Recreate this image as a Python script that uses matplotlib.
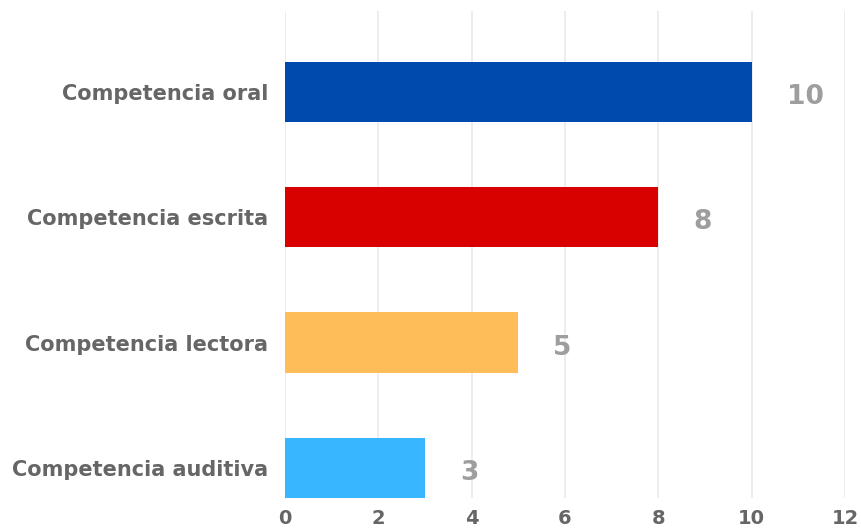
import matplotlib
matplotlib.use("Agg")
import matplotlib.pyplot as plt

# ──────────────────────────────────────────────
# Data
# ──────────────────────────────────────────────
categories = ["Competencia oral", "Competencia escrita",
              "Competencia lectora", "Competencia auditiva"]
values = [10, 8, 5, 3]
bar_colors = ["#004AAD", "#D90000", "#FFBD59", "#38B6FF"]
x_ticks = [0, 2, 4, 6, 8, 10, 12]

plt.rcParams["font.family"] = ["DejaVu Sans"]

fig = plt.figure(figsize=(8.62, 5.32), dpi=100)
ax = fig.add_axes([0.3306, 0.0639, 0.6497, 0.9154])

ypos = list(range(len(categories)))
ax.barh(ypos, values, height=0.48, color=bar_colors, zorder=3)

# value labels to the right of each bar
for y, v in zip(ypos, values):
    ax.annotate(str(v), xy=(v, y), xytext=(35, -5), textcoords="offset pixels",
                ha="left", va="center", fontsize=19, fontweight="bold",
                color="#9E9E9E")

ax.set_xlim(0, 12)
ax.set_ylim(3.24, -0.645)
ax.set_xticks(x_ticks)
ax.set_xticklabels([str(t) for t in x_ticks])
ax.set_yticks(ypos)
ax.set_yticklabels(categories)

ax.grid(axis="x", color="#EAEAEA", linewidth=1.2, zorder=0)
ax.grid(axis="y", visible=False)
for s in ax.spines.values():
    s.set_visible(False)

ax.tick_params(axis="both", length=0, colors="#666666")
ax.tick_params(axis="x", pad=8)
ax.tick_params(axis="y", pad=12)
for lbl in ax.get_xticklabels():
    lbl.set_fontsize(14)
    lbl.set_fontweight("bold")
for lbl in ax.get_yticklabels():
    lbl.set_fontsize(15)
    lbl.set_fontweight("bold")

fig.savefig("out.png", dpi=100, facecolor="white")
